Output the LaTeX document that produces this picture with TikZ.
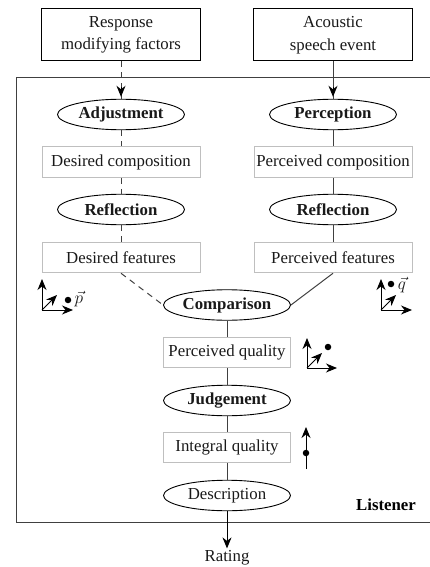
\documentclass[tikz,border=0pt]{standalone}
\usepackage{fontspec}
\setmainfont{Liberation Serif}
\usetikzlibrary{shapes.geometric,arrows.meta}
\tikzset{
  x=1pt,y=-1pt,
  lbl/.style={font=\fontsize{16.8}{22.5}\selectfont,inner sep=0pt,text=black!90},
  topbox/.style={lbl,draw=black,line width=1pt,minimum width=159pt,minimum height=52pt,align=center},
  state/.style={lbl,draw=black!25,line width=1pt,minimum height=30.5pt},
  proc/.style={lbl,ellipse,draw=black,line width=0.9pt,minimum width=127pt,minimum height=30.5pt},
  boldproc/.style={proc,font=\fontsize{16.8}{20}\selectfont\bfseries},
  link/.style={draw=black!75,line width=1pt},
  dashlink/.style={link,dash pattern=on 6pt off 5pt},
  tip/.style={-{Stealth[length=11pt,width=9pt,inset=3.5pt]},black,line width=1pt},
  spot/.style={circle,fill=black,inner sep=0pt,minimum size=6.5pt},
}
\begin{document}
\begin{tikzpicture}
\useasboundingbox (0,0) rectangle (430,567);
% frame
\draw[black!75,line width=1pt] (430,78) -- (16,78) -- (16,522) -- (430,522);
% nodes
\node[topbox] (rmf) at (121,35) {Response\\modifying factors};
\node[topbox] (ase) at (333,35) {Acoustic\\speech event};
\node[boldproc] (adj) at (121,114.5) {Adjustment};
\node[boldproc] (per) at (333,114.5) {Perception};
\node[state,minimum width=158pt] (dc) at (121,162) {Desired composition};
\node[state,minimum width=158pt] (pc) at (333,162) {Perceived composition};
\node[boldproc] (rl) at (121,209.5) {Reflection};
\node[boldproc] (rr) at (333,209.5) {Reflection};
\node[state,minimum width=158pt] (df) at (121,257.5) {Desired features};
\node[state,minimum width=158pt] (pf) at (333,257.5) {Perceived features};
\node[boldproc] (cmp) at (227,305) {Comparison};
\node[state,minimum width=127pt] (pq) at (227,352.5) {Perceived quality};
\node[boldproc] (jdg) at (227,400.5) {Judgement};
\node[state,minimum width=127pt] (iq) at (227,447.5) {Integral quality};
\node[proc] (dsc) at (227,495.5) {Description};
\node[lbl] (rat) at (227,558) {Rating};
\node[lbl,font=\fontsize{16.8}{20}\selectfont\bfseries,text=black] (lis) at (386,505) {Listener};
% connectors
\draw[dashlink] (rmf) -- (adj.north);
\draw[tip,shorten >=2pt] ([yshift=12pt]adj.north) -- (adj.north);
\draw[link] (ase) -- (per);
\draw[tip,shorten >=2pt] ([yshift=12pt]per.north) -- (per.north);
\draw[dashlink] (adj) -- (dc);
\draw[dashlink] (dc) -- (rl);
\draw[dashlink] (rl) -- (df);
\draw[link] (per) -- (pc);
\draw[link] (pc) -- (rr);
\draw[link] (rr) -- (pf);
\draw[dashlink] (df.south) -- (cmp.west);
\draw[link] (pf.south) -- (cmp.east);
\draw[link] (cmp) -- (pq);
\draw[link] (pq) -- (jdg);
\draw[link] (jdg) -- (iq);
\draw[link] (iq) -- (dsc);
\draw[tip,shorten >=2pt] (dsc.south) -- (rat.north);
% p axes
\coordinate (po) at (42,310);
\draw[tip] (po) -- (42,279);
\draw[tip] (po) -- (73,310);
\draw[tip] (po) -- (57,295);
\node[spot] (pd) at (68,300) {};
\node[lbl,font=\fontsize{18}{20}\selectfont] (pl) at (79,299) {$\vec{p}$};
% q axes
\coordinate (qo) at (381,310);
\draw[tip] (qo) -- (381,279);
\draw[tip] (qo) -- (412,310);
\draw[tip] (qo) -- (396,295);
\node[spot] (qd) at (391,284) {};
\node[lbl,font=\fontsize{18}{20}\selectfont] (ql) at (402,285) {$\vec{q}$};
% quality axes
\coordinate (ao) at (307,368);
\draw[tip] (ao) -- (307,338);
\draw[tip] (ao) -- (337,368);
\draw[tip] (ao) -- (322,353);
\node[spot] (ad) at (328,347) {};
% integral axis
\coordinate (io) at (306,469);
\draw[tip] (io) -- (306,427);
\node[spot] (id) at (306,453) {};
\end{tikzpicture}
\end{document}
